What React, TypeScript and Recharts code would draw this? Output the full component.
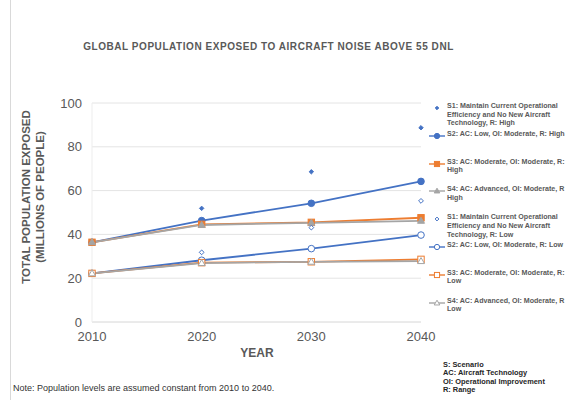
import React from 'react'
import { LineChart, Line, XAxis, YAxis, CartesianGrid } from 'recharts'

const years = [2010, 2020, 2030, 2040]
const s1High = [36.4, 51.9, 68.6, 88.7]
const s2High = [36.4, 46.3, 54.2, 64.2]
const s3High = [36.4, 44.6, 45.5, 47.6]
const s4High = [36.4, 44.3, 45.3, 46.2]
const s1Low = [22.2, 31.8, 43.1, 55.3]
const s2Low = [22.2, 28.2, 33.5, 39.7]
const s3Low = [22.2, 27.1, 27.5, 28.6]
const s4Low = [22.2, 26.9, 27.5, 27.8]
const yTicks = [0, 20, 40, 60, 80, 100]

const BLUE = '#4472C4'
const ORANGE = '#ED7D31'
const GRAY = '#A5A5A5'
const TEXT = '#595959'

type Shape = 'diamond' | 'circle' | 'square' | 'triangle'

const series = [
  { key: 's1h', values: s1High, color: BLUE, shape: 'diamond' as Shape, filled: true, line: false,
    label: 'S1: Maintain Current Operational\nEfficiency and No New Aircraft\nTechnology, R: High' },
  { key: 's2h', values: s2High, color: BLUE, shape: 'circle' as Shape, filled: true, line: true,
    label: 'S2: AC: Low, OI: Moderate, R: High' },
  { key: 's3h', values: s3High, color: ORANGE, shape: 'square' as Shape, filled: true, line: true,
    label: 'S3: AC: Moderate, OI: Moderate, R:\nHigh' },
  { key: 's4h', values: s4High, color: GRAY, shape: 'triangle' as Shape, filled: true, line: true,
    label: 'S4: AC: Advanced, OI: Moderate, R\nHigh' },
  { key: 's1l', values: s1Low, color: BLUE, shape: 'diamond' as Shape, filled: false, line: false,
    label: 'S1: Maintain Current Operational\nEfficiency and No New Aircraft\nTechnology, R: Low' },
  { key: 's2l', values: s2Low, color: BLUE, shape: 'circle' as Shape, filled: false, line: true,
    label: 'S2: AC: Low, OI: Moderate, R: Low' },
  { key: 's3l', values: s3Low, color: ORANGE, shape: 'square' as Shape, filled: false, line: true,
    label: 'S3: AC: Moderate, OI: Moderate, R:\nLow' },
  { key: 's4l', values: s4Low, color: GRAY, shape: 'triangle' as Shape, filled: false, line: true,
    label: 'S4: AC: Advanced, OI: Moderate, R\nLow' },
]

const abbreviations = ['S: Scenario', 'AC: Aircraft Technology', 'OI: Operational Improvement', 'R: Range']

const data = years.map((year, i) => {
  const row: any = { year }
  series.forEach(s => { row[s.key] = s.values[i] })
  return row
})

function marker(shape: Shape, filled: boolean, color: string, cx: number, cy: number, key?: any, scale = 1) {
  const fill = filled ? color : '#fff'
  const sw = 1
  if (shape === 'circle') return <circle key={key} cx={cx} cy={cy} r={3.3 * scale} fill={fill} stroke={color} strokeWidth={sw} />
  if (shape === 'square') {
    const h = 3.2 * scale
    return <rect key={key} x={cx - h} y={cy - h} width={h * 2} height={h * 2} fill={fill} stroke={color} strokeWidth={sw} />
  }
  if (shape === 'triangle') {
    const t = 3.5 * scale
    return <polygon key={key} points={`${cx},${cy - t} ${cx + t},${cy + t * 0.7} ${cx - t},${cy + t * 0.7}`} fill={fill} stroke={color} strokeWidth={sw} />
  }
  const d = (filled ? 2.2 : 2.4) * scale
  return <polygon key={key} points={`${cx},${cy - d} ${cx + d},${cy} ${cx},${cy + d} ${cx - d},${cy}`} fill={fill} stroke={color} strokeWidth={sw} />
}

const font = 'Arial, "Liberation Sans", sans-serif'

export default function App() {
  return (
    <div style={{ position: 'fixed', left: 0, top: 0, width: 571, height: 400, background: '#fff', fontFamily: font, overflow: 'hidden' }}>
      <div style={{ position: 'absolute', left: 10, top: 0, width: 1, height: 400, background: '#D9D9D9' }} />
      <div style={{ position: 'absolute', left: 0, width: 537, top: 41, textAlign: 'center', fontSize: 10, letterSpacing: 0.55, color: TEXT, fontWeight: 600 }}>
        GLOBAL POPULATION EXPOSED TO AIRCRAFT NOISE ABOVE 55 DNL
      </div>
      <LineChart width={571} height={400} data={data} margin={{ top: 103, right: 150, bottom: 48, left: 32 }} style={{ position: 'absolute', left: 0, top: 0 }}>
        <CartesianGrid vertical={false} stroke="#E4E4E4" />
        <XAxis dataKey="year" type="number" domain={[2010, 2040]} ticks={years} axisLine={{ stroke: '#E4E4E4' }} tickLine={false}
          tick={{ fill: TEXT, fontSize: 13, fontFamily: font }} tickMargin={4} />
        <YAxis domain={[0, 100]} ticks={yTicks} axisLine={{ stroke: '#EDEDED' }} tickLine={false}
          tick={{ fill: TEXT, fontSize: 13, fontFamily: font }} tickMargin={4} />
        {series.map(s => (
          <Line key={s.key} dataKey={s.key} isAnimationActive={false} stroke={s.line ? s.color : 'none'} strokeWidth={1.8}
            dot={(p: any) => marker(s.shape, s.filled, s.color, p.cx, p.cy, `${s.key}-${p.index}`)} activeDot={false} />
        ))}
        <text x={257} y={357} textAnchor="middle" fontSize={12} fontWeight="bold" fill={TEXT} fontFamily={font}>YEAR</text>
        <text transform="translate(30,197) rotate(-90)" textAnchor="middle" fontSize={11.5} fontWeight="bold" fill={TEXT} fontFamily={font}>
          TOTAL POPULATION EXPOSED
        </text>
        <text transform="translate(44,197) rotate(-90)" textAnchor="middle" fontSize={11.5} fontWeight="bold" fill={TEXT} fontFamily={font}>
          (MILLIONS OF PEOPLE)
        </text>
      </LineChart>
      <div style={{ position: 'absolute', left: 428, top: 102 }}>
        {series.map(s => (
          <div key={s.key} style={{ position: 'relative', height: 27.8 }}>
            <svg width={18} height={10} style={{ position: 'absolute', left: 0, top: 1 }}>
              {s.line && <line x1={1} y1={5} x2={17} y2={5} stroke={s.color} strokeWidth={1.4} />}
              {marker(s.shape, s.filled, s.color, 9, 5, undefined, 0.8)}
            </svg>
            <div style={{ position: 'absolute', left: 19, top: 0, width: 140, whiteSpace: 'pre', fontSize: 7.1, lineHeight: '8.7px', fontWeight: 'bold', color: TEXT }}>
              {s.label}
            </div>
          </div>
        ))}
      </div>
      <div style={{ position: 'absolute', left: 443, top: 361, fontSize: 7.4, lineHeight: '8.4px', fontWeight: 'bold', color: '#262626' }}>
        {abbreviations.map(a => <div key={a}>{a}</div>)}
      </div>
      <div style={{ position: 'absolute', left: 13, top: 383, fontSize: 9, color: '#333' }}>
        Note: Population levels are assumed constant from 2010 to 2040.
      </div>
    </div>
  )
}
